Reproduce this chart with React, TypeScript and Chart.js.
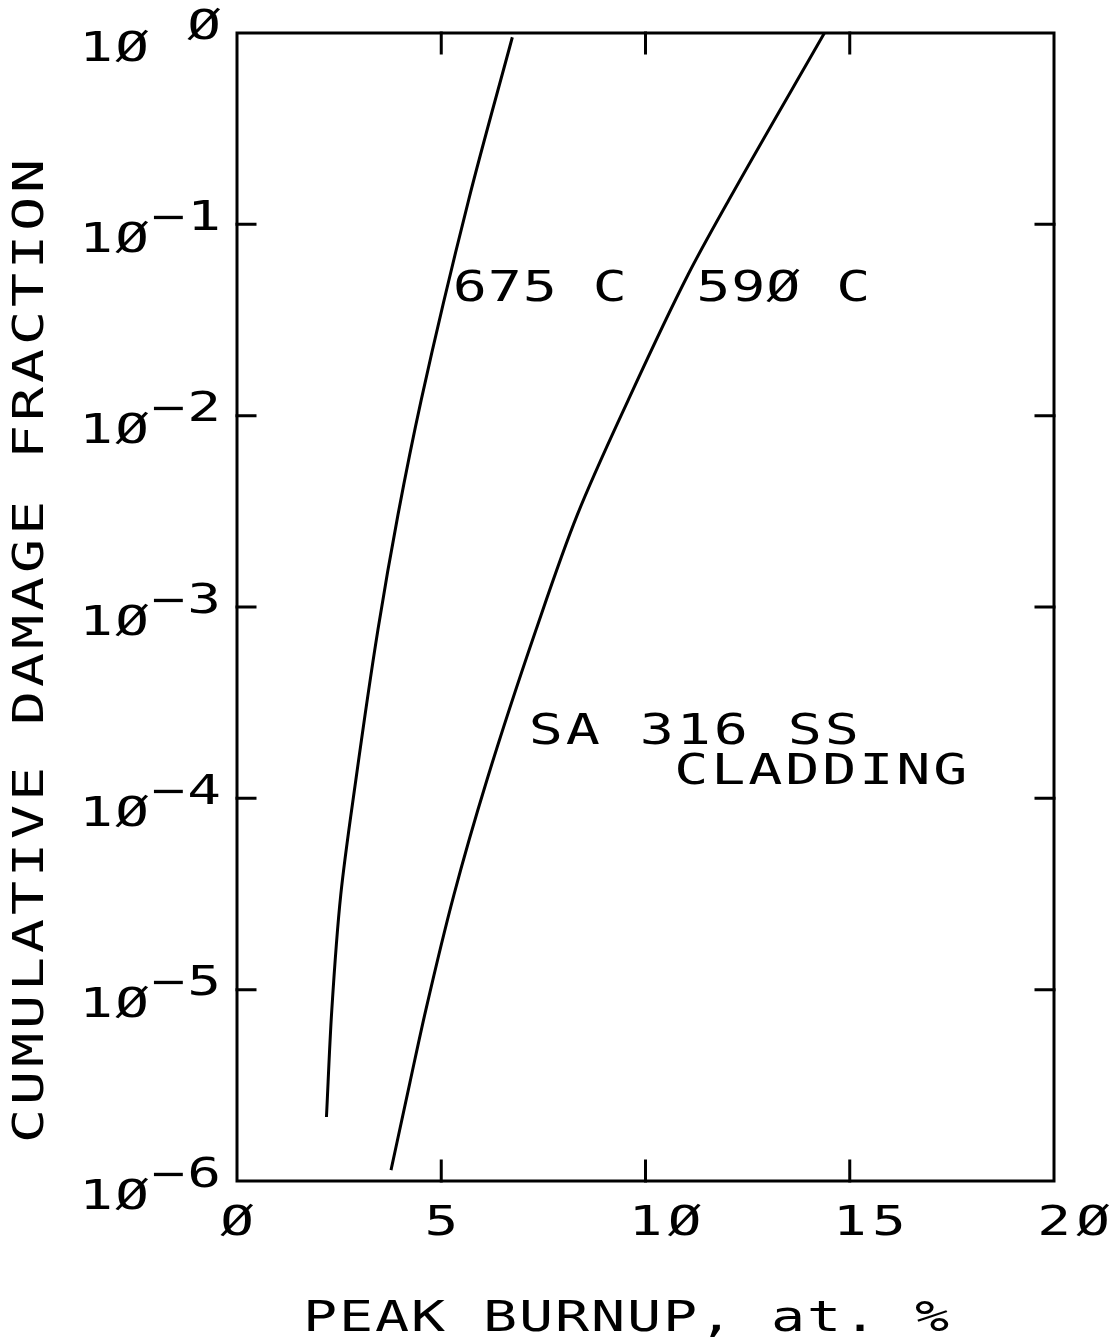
import React, { useEffect, useRef } from "react";
import { Chart, registerables } from "chart.js";

Chart.register(...registerables);

// ---- data ----
const burnup675: number[] = [2.19, 2.32, 2.54, 2.91, 3.45, 3.94, 4.51, 5.67, 6.74];
const damage675: number[] = [2.16e-6, 7.8e-6, 3.13e-5, 1.25e-4, 7.6e-4, 3.03e-3, 1.21e-2, 0.134, 0.95];

const burnup590: number[] = [3.77, 4.23, 4.62, 5.31, 6.12, 7.32, 8.33, 9.58, 11.05, 12.04, 14.38];
const damage590: number[] = [1.14e-6, 3.25e-6, 7.8e-6, 3.13e-5, 1.25e-4, 7.6e-4, 3.03e-3, 1.21e-2, 5.5e-2, 0.134, 1.0];

const xTickValues: number[] = [0, 5, 10, 15, 20];
const xTickLabels: string[] = ["Ø", "5", "1Ø", "15", "2Ø"];
const yTickExponents: number[] = [0, -1, -2, -3, -4, -5, -6];
const yTickBase = "1Ø";
const yTickExpLabels: string[] = [" Ø", "−1", "−2", "−3", "−4", "−5", "−6"];

const xTitle = "PEAK BURNUP, at. %";
const yTitle = "CUMULATIVE DAMAGE FRACTION";

const annoTexts: string[] = ["675 C", "59Ø C", "SA 316 SS", "CLADDING"];
const annoX: number[] = [5.7, 11.66, 7.56, 11.12];
const annoY: number[] = [0.048, 0.048, 2.31e-4, 1.43e-4];

const FONT = '"DejaVu Sans Mono", "Liberation Mono", monospace';

function drawPlot(
  ctx: CanvasRenderingContext2D,
  text: string,
  firstCenterX: number,
  centerY: number,
  pitch: number,
  size: number,
  sx: number
) {
  ctx.save();
  ctx.font = `${size}px ${FONT}`;
  ctx.fillStyle = "#000";
  ctx.textAlign = "center";
  ctx.textBaseline = "alphabetic";
  const base = centerY + 0.365 * size;
  for (let i = 0; i < text.length; i++) {
    const ch = text[i];
    if (ch === " ") continue;
    ctx.save();
    ctx.translate(firstCenterX + i * pitch, base);
    ctx.scale(sx, 1);
    ctx.fillText(ch, 0, 0);
    ctx.restore();
  }
  ctx.restore();
}

const framePlugin = {
  id: "plotterFrame",
  afterDatasetsDraw(chart: any) {
    const ctx: CanvasRenderingContext2D = chart.ctx;
    const { left, right, top, bottom } = chart.chartArea;
    const xs = chart.scales.x;
    const ys = chart.scales.y;
    ctx.save();
    ctx.strokeStyle = "#000";
    ctx.lineWidth = 3;
    ctx.lineCap = "square";
    ctx.strokeRect(left, top, right - left, bottom - top);
    const tl = 20;
    ctx.beginPath();
    xTickValues.forEach((v) => {
      if (v === xs.min || v === xs.max) return;
      const px = xs.getPixelForValue(v);
      ctx.moveTo(px, bottom);
      ctx.lineTo(px, bottom - tl);
      ctx.moveTo(px, top);
      ctx.lineTo(px, top + tl);
    });
    yTickExponents.forEach((e) => {
      const v = Math.pow(10, e);
      if (e === 0 || e === -6) return;
      const py = ys.getPixelForValue(v);
      ctx.moveTo(left, py);
      ctx.lineTo(left + 18, py);
      ctx.moveTo(right, py);
      ctx.lineTo(right - 18, py);
    });
    ctx.stroke();
    ctx.restore();

    // x tick labels
    xTickValues.forEach((v, i) => {
      const px = xs.getPixelForValue(v);
      drawPlot(ctx, xTickLabels[i], px, bottom + 39, 39, 40, 1.4);
    });
    // y tick labels
    yTickExponents.forEach((e, i) => {
      const py = ys.getPixelForValue(Math.pow(10, e));
      const x0 = left - 141;
      drawPlot(ctx, yTickBase, x0, py + 13, 36, 40, 1.4);
      drawPlot(ctx, yTickExpLabels[i], x0 + 72, py - 9, 36, 40, 1.4);
    });
    // axis titles
    drawPlot(ctx, xTitle, 320, 1316, 36, 42, 1.35);
    ctx.save();
    ctx.translate(28, 1126);
    ctx.rotate(-Math.PI / 2);
    drawPlot(ctx, yTitle, 0, 0, 38, 42, 1.35);
    ctx.restore();
    // annotations
    annoTexts.forEach((t, i) => {
      const px = xs.getPixelForValue(annoX[i]);
      const py = ys.getPixelForValue(annoY[i]);
      drawPlot(ctx, t, px, py, i < 2 ? 35 : 37, 42, 1.35);
    });
  },
};

export default function App() {
  const ref = useRef<HTMLCanvasElement | null>(null);
  useEffect(() => {
    if (!ref.current) return;
    const mk = (xs: number[], ys: number[]) => xs.map((x, i) => ({ x, y: ys[i] }));
    const chart = new Chart(ref.current, {
      type: "line",
      data: {
        datasets: [
          {
            label: "675 C",
            data: mk(burnup675, damage675),
            borderColor: "#000",
            borderWidth: 3,
            pointRadius: 0,
            cubicInterpolationMode: "monotone",
            fill: false,
          },
          {
            label: "590 C",
            data: mk(burnup590, damage590),
            borderColor: "#000",
            borderWidth: 3,
            pointRadius: 0,
            cubicInterpolationMode: "monotone",
            fill: false,
          },
        ],
      },
      options: {
        indexAxis: "y",
        responsive: false,
        animation: false,
        layout: { padding: { left: 237, right: 65, top: 33, bottom: 159 } },
        plugins: { legend: { display: false }, tooltip: { enabled: false } },
        scales: {
          x: { type: "linear", min: 0, max: 20, display: false },
          y: { type: "logarithmic", min: 1e-6, max: 1, display: false },
        },
      },
      plugins: [framePlugin],
    } as any);
    return () => chart.destroy();
  }, []);
  return (
    <div style={{ position: "absolute", left: 0, top: 0, width: 1119, height: 1340, background: "#fff" }}>
      <canvas ref={ref} width={1119} height={1340} />
    </div>
  );
}
